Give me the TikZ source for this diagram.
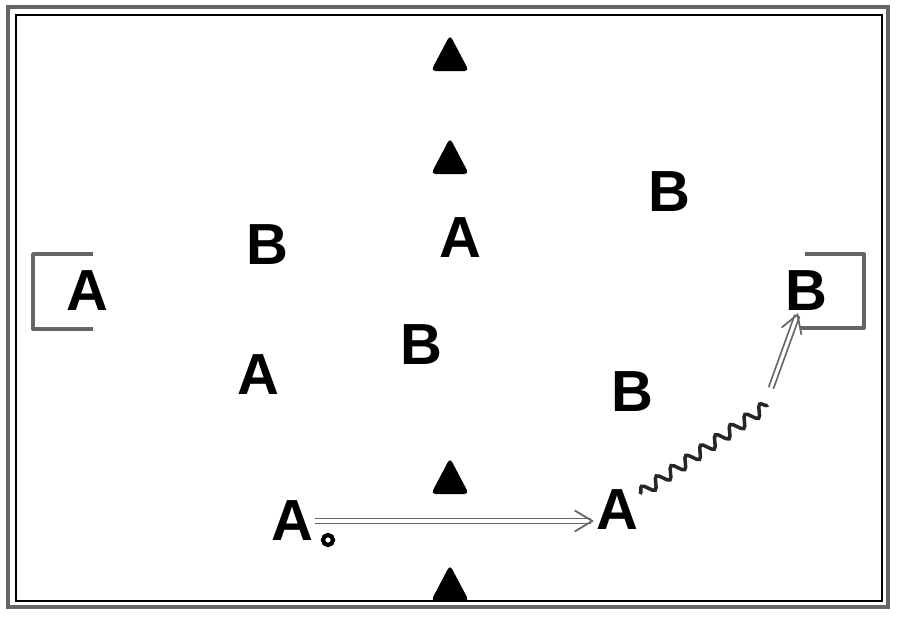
\documentclass[tikz,border=0pt]{standalone}
\usepackage{fontspec}
\newfontfamily\playerfont{Liberation Sans}
\usetikzlibrary{arrows.meta,decorations.pathmorphing}

\tikzset{
    player/.style={font=\playerfont\bfseries\fontsize{33}{33}\selectfont, inner sep=1pt},
    cone/.style={fill=black, rounded corners=2.5pt},
    goal/.style={draw=black!60, line width=2.2pt, line join=round},
    pass/.style={draw=black!60, double=white, double distance=1.8pt, line width=1pt,
        -{Straight Barb[length=10pt,width=12pt]}},
    run/.style={draw=black!85, line width=2pt,
        decorate, decoration={snake, amplitude=0.11cm, segment length=0.36cm}},
    ball/.style={circle, draw, line width=2.4pt, minimum size=0.2cm, inner sep=0pt}
}

\begin{document}
\begin{tikzpicture}[x=0.02cm, y=-0.02cm]
        \useasboundingbox (0,0) rectangle (900,620);
        % field
        \draw[black!60, line width=2.2pt] (8,7) rectangle (888,607);
        \draw[line width=1pt] (16,15) rectangle (882,601);
        \draw[goal] (93,254) -- (33,254) -- (33,329) -- (93,329);
        \draw[goal] (805,254) -- (864,254) -- (864,328) -- (800,328);

        \foreach \y in {35,138,458,565}
            \fill[cone] (450,\y) -- ++(19,36) -- ++(-38,0) -- cycle;

        % players
        \node[player] (b1) at (267,245) {B};
        \node[player] (a1) at (460,238) {A};
        \node[player] (b2) at (669,192) {B};
        \node[player] (a2) at (87,291) {A};
        \node[player] (b3) at (806,291) {B};
        \node[player] (b4) at (421,345) {B};
        \node[player] (a3) at (258,375) {A};
        \node[player] (b5) at (632,392) {B};
        \node[player] (a4) at (292,521) {A};
        \node[player] (a5) at (617,510) {A};
        \node[ball] (ball) at (328,540) {};

        % moves
        \coordinate (r1) at (768,405);
        \coordinate (r2) at (771,388);
        \draw[pass] (a4.east) -- (a4.east -| a5.west);
        \draw[run] (a5) -- (r1);
        \draw[pass] (r2) -- (b3);
\end{tikzpicture}
\end{document}
